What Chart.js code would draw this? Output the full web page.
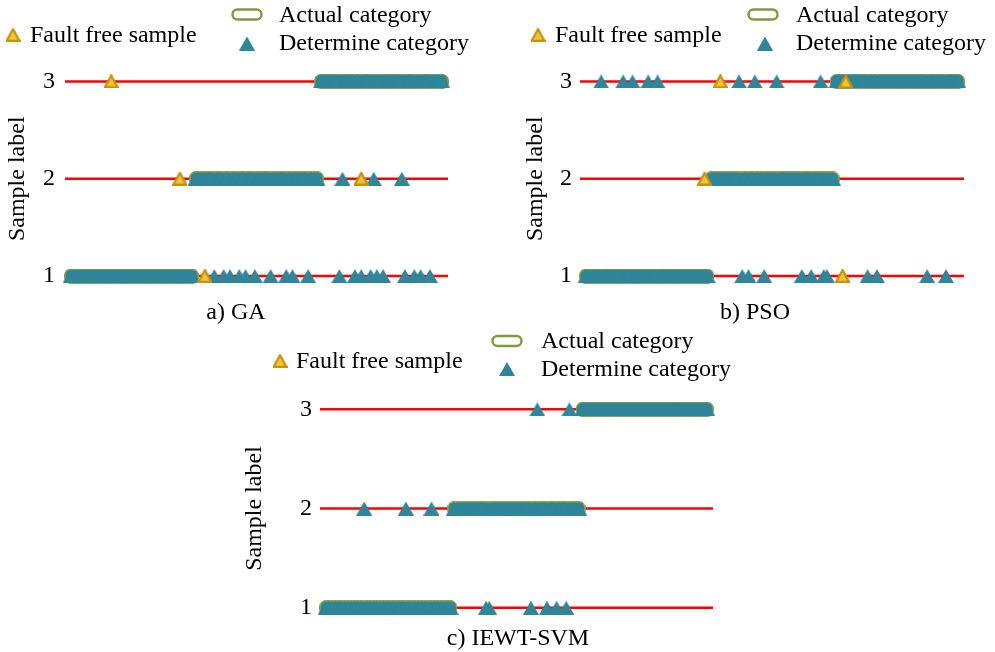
<!DOCTYPE html>
<html>
<head>
<meta charset="utf-8">
<title>Sample classification results</title>
<script src="https://cdn.jsdelivr.net/npm/chart.js@4.4.1/dist/chart.umd.min.js"></script>
<style>
  html, body { margin: 0; padding: 0; background: #ffffff; }
  #page { position: relative; width: 995px; height: 652px; overflow: hidden; background: #ffffff; }
  #page canvas { position: absolute; }
</style>
</head>
<body>
<div id="page">
  <canvas id="chartGA"  width="472" height="330" style="left:0px;top:0px;width:472px;height:330px"></canvas>
  <canvas id="chartPSO" width="480" height="330" style="left:515px;top:0px;width:480px;height:330px"></canvas>
  <canvas id="chartSVM" width="564" height="322" style="left:236px;top:330px;width:564px;height:322px"></canvas>
</div>
<script>
// ---- data -------------------------------------------------------------
const categoryLevels = [1, 2, 3];
const tickLabels = ['1', '2', '3'];
// test samples belonging to each actual category (sample numbers)
const classRanges = [[1, 40], [41, 80], [81, 120]];
const panelTitles = ['a) GA', 'b) PSO', 'c) IEWT-SVM'];
const seriesNames = ['Fault free sample', 'Actual category', 'Determine category'];

// misjudged samples: [sample number, determined category]
const gaMisjudged = [
  [47, 1], [50, 1], [52, 1], [55, 1], [57, 1], [60, 1], [65, 1], [70, 1], [72, 1], [77, 1],
  [87, 1], [92, 1], [94, 1], [97, 1], [99, 1], [101, 1], [108, 1], [111, 1], [113, 1], [116, 1],
  [88, 2], [98, 2], [107, 2]
];
const psoMisjudged = [
  [6, 3], [13, 3], [16, 3], [21, 3], [24, 3], [50, 3], [55, 3], [62, 3], [76, 3],
  [51, 1], [53, 1], [58, 1], [70, 1], [73, 1], [77, 1], [78, 1], [91, 1], [94, 1], [110, 1], [116, 1]
];
const svmMisjudged = [
  [67, 3], [77, 3],
  [13, 2], [26, 2], [34, 2],
  [51, 1], [52, 1], [65, 1], [70, 1], [73, 1], [76, 1]
];

// fault free samples: [sample number, category]
const gaFaultFree = [[14, 3], [36, 2], [94, 2], [44, 1]];
const psoFaultFree = [[44, 3], [84, 3], [39, 2], [83, 1]];
const svmFaultFree = [];

// ---- styles -----------------------------------------------------------
const TEAL = '#2f8599';
const OLIVE = '#7f9b3e';
const GOLD_FILL = '#f3c43a';
const GOLD_EDGE = '#c4920b';
const RED = '#ff0000';
const FONT_FAMILY = '"Liberation Serif", "Times New Roman", serif';

Chart.defaults.font.family = FONT_FAMILY;
Chart.defaults.font.size = 24;
Chart.defaults.color = '#000000';

// marker images (centred on their bounding box)
function triangleImage(w, h, fill, edge, lw) {
  const c = document.createElement('canvas');
  c.width = w; c.height = h;
  const g = c.getContext('2d');
  const p = edge ? lw / 2 : 0;
  g.beginPath();
  g.moveTo(w / 2, p);
  g.lineTo(w - p, h - p);
  g.lineTo(p, h - p);
  g.closePath();
  g.fillStyle = fill;
  g.fill();
  if (edge) { g.lineWidth = lw; g.strokeStyle = edge; g.lineJoin = 'miter'; g.stroke(); }
  return c;
}
function pillImage(w, h, fill) {
  const c = document.createElement('canvas');
  c.width = w; c.height = h;
  const g = c.getContext('2d');
  g.beginPath();
  g.roundRect(0, 0, w, h, Math.min(w, h) / 2);
  g.fillStyle = fill; g.fill();
  return c;
}
const determinedMarker = triangleImage(16, 14, TEAL, null, 0);
const faultFreeMarker = triangleImage(15, 14, GOLD_FILL, GOLD_EDGE, 2.2);
// actual-category pill: olive rim layer underneath, teal body on top,
// so overlapping pills merge into one outlined band
const actualRim = pillImage(13, 15, OLIVE);
const actualBody = pillImage(10, 12, TEAL);

// ---- dataset builders -------------------------------------------------
function actualPoints() {
  const pts = [];
  classRanges.forEach((r, k) => {
    for (let s = r[0]; s <= r[1]; s++) pts.push({ x: s, y: categoryLevels[k] });
  });
  return pts;
}
function determinedPoints(misjudged) {
  const wrong = new Map(misjudged);
  const pts = [];
  classRanges.forEach((r, k) => {
    for (let s = r[0]; s <= r[1]; s++) {
      pts.push({ x: s, y: wrong.has(s) ? wrong.get(s) : categoryLevels[k] });
    }
  });
  return pts;
}
function pairPoints(pairs) { return pairs.map(p => ({ x: p[0], y: p[1] })); }

const X_MIN = -0.76, X_MAX = 121.76;

function buildDatasets(misjudged, faultFree) {
  const sets = [];
  categoryLevels.forEach(lvl => {
    sets.push({
      label: 'level ' + lvl, showLine: true, data: [{ x: X_MIN, y: lvl }, { x: X_MAX, y: lvl }],
      borderColor: RED, borderWidth: 2.6, pointRadius: 0, order: 5, clip: false
    });
  });
  const actual = actualPoints();
  sets.push({ label: seriesNames[1] + ' rim', data: actual, pointStyle: actualRim, pointRadius: 7, order: 4, clip: false });
  sets.push({ label: seriesNames[1], data: actual, pointStyle: actualBody, pointRadius: 7, order: 3, clip: false });
  sets.push({ label: seriesNames[2], data: determinedPoints(misjudged), pointStyle: determinedMarker, pointRadius: 7, order: 2, clip: false });
  sets.push({ label: seriesNames[0], data: pairPoints(faultFree), pointStyle: faultFreeMarker, pointRadius: 7, order: 1, clip: false });
  return sets;
}

// ---- legend above each plot and caption below it -----------------------
const panelLegend = {
  id: 'panelLegend',
  afterDraw(chart, args, opts) {
    const ctx = chart.ctx;
    ctx.save();
    ctx.font = '24px ' + FONT_FAMILY;
    ctx.fillStyle = '#000000';
    ctx.textAlign = 'left';
    ctx.textBaseline = 'alphabetic';
    // fault free sample
    const f = opts.fault;
    ctx.drawImage(faultFreeMarker, f.mx - 7.5, f.my - 7);
    ctx.fillText(seriesNames[0], f.tx, f.ty);
    // actual category (wide pill)
    const a = opts.actual;
    ctx.beginPath();
    ctx.roundRect(a.mx - 14.5, a.my - 5, 29, 10, 5);
    ctx.fillStyle = '#ffffff';
    ctx.fill();
    ctx.lineWidth = 2.4; ctx.strokeStyle = OLIVE; ctx.stroke();
    ctx.fillStyle = '#000000';
    ctx.fillText(seriesNames[1], a.tx, a.ty);
    // determine category
    const d = opts.determine;
    ctx.drawImage(determinedMarker, d.mx - 8, d.my - 7);
    ctx.fillText(seriesNames[2], d.tx, d.ty);
    // panel caption
    const c = opts.caption;
    ctx.textAlign = 'center';
    ctx.fillText(c.text, c.x, c.y);
    ctx.restore();
  }
};

function makeChart(id, title, misjudged, faultFree, geo) {
  geo.legend.caption.text = title;
  return new Chart(document.getElementById(id), {
    type: 'scatter',
    data: { datasets: buildDatasets(misjudged, faultFree) },
    plugins: [panelLegend],
    options: {
      responsive: false,
      animation: false,
      events: [],
      layout: { padding: geo.padding },
      scales: {
        x: { type: 'linear', min: X_MIN, max: X_MAX, display: false },
        y: {
          type: 'linear', min: 0.85, max: 3.15,
          afterBuildTicks(scale) { scale.ticks = categoryLevels.map(v => ({ value: v })); },
          afterFit(scale) { scale.width = geo.axisWidth; },
          grid: { display: false, drawTicks: false },
          border: { display: false },
          ticks: {
            padding: geo.tickPad, color: '#000000', font: { size: 24 },
            callback: (v) => tickLabels[categoryLevels.indexOf(v)]
          },
          title: { display: true, text: 'Sample label', color: '#000000', font: { size: 24 }, padding: { top: geo.titlePad, bottom: 0 } }
        }
      },
      plugins: {
        legend: { display: false },
        tooltip: { enabled: false },
        title: { display: false },
        panelLegend: geo.legend
      }
    }
  });
}

makeChart('chartGA', panelTitles[0], gaMisjudged, gaFaultFree, {
  padding: { left: 0, right: 24, top: 66.9, bottom: 39.4 },
  axisWidth: 65, tickPad: 10, titlePad: 3.6,
  legend: {
    fault: { mx: 13, my: 35, tx: 30, ty: 42 },
    actual: { mx: 247, my: 14.5, tx: 279, ty: 22 },
    determine: { mx: 247, my: 43.5, tx: 279, ty: 50 },
    caption: { x: 236, y: 319 }
  }
});
makeChart('chartPSO', panelTitles[1], psoMisjudged, psoFaultFree, {
  padding: { left: 0, right: 31, top: 66.9, bottom: 39.4 },
  axisWidth: 65, tickPad: 8, titlePad: 6.6,
  legend: {
    fault: { mx: 23, my: 35, tx: 40, ty: 42 },
    actual: { mx: 248, my: 14.5, tx: 281, ty: 22 },
    determine: { mx: 250, my: 43.5, tx: 281, ty: 50 },
    caption: { x: 240, y: 319 }
  }
});
makeChart('chartSVM', panelTitles[2], svmMisjudged, svmFaultFree, {
  padding: { left: 0, right: 87, top: 64.4, bottom: 29.4 },
  axisWidth: 84, tickPad: 8, titlePad: 4.6,
  legend: {
    fault: { mx: 44, my: 31, tx: 60, ty: 38 },
    actual: { mx: 271, my: 11, tx: 305, ty: 18 },
    determine: { mx: 271, my: 39, tx: 305, ty: 46 },
    caption: { x: 282, y: 315 }
  }
});
</script>
</body>
</html>
